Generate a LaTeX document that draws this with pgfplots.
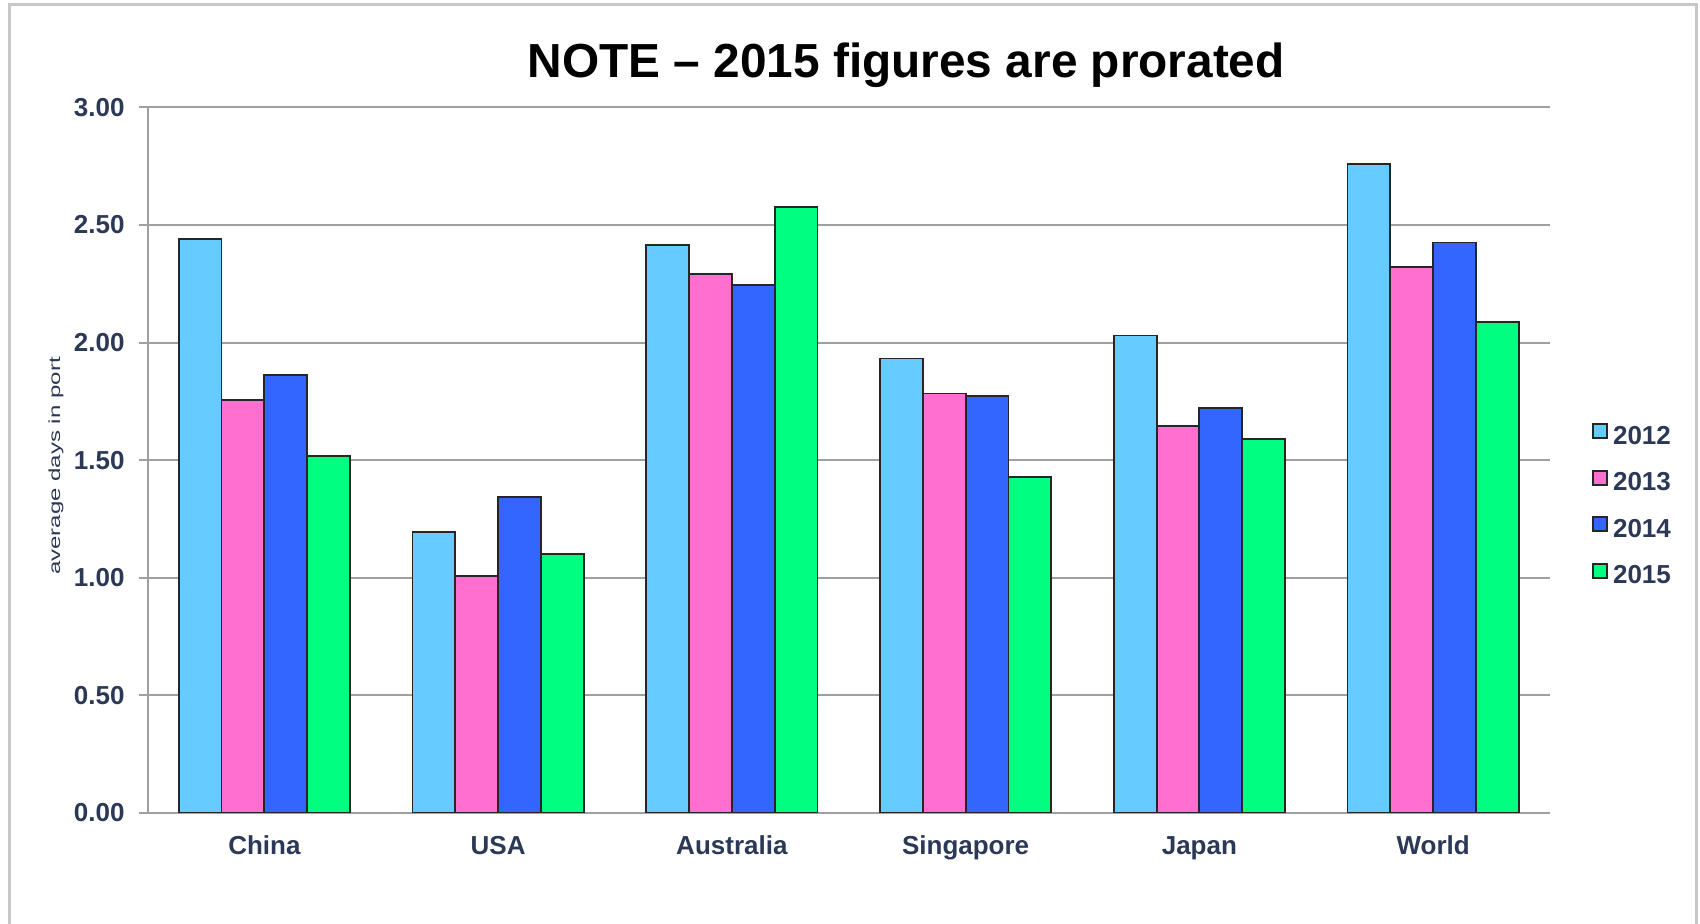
\documentclass[border=0pt]{standalone}
\usepackage{fontspec}
\setmainfont{Liberation Sans}
\usepackage{graphicx}
\usepackage{pgfplots}
\pgfplotsset{compat=1.18}

\definecolor{cA}{HTML}{66CCFF}
\definecolor{cB}{HTML}{FF6FCF}
\definecolor{cC}{HTML}{3366FF}
\definecolor{cD}{HTML}{00FF80}
\definecolor{navy}{HTML}{2B3856}
\definecolor{gridgray}{HTML}{A0A0A0}

\pgfplotsset{
  sq legend/.style={legend image code/.code={
      \draw[##1,draw=black!85,line width=0.8bp] (0bp,-1.7bp) rectangle (7bp,5.3bp);}},
}

\begin{document}
\begin{tikzpicture}
\path[use as bounding box] (0,0) rectangle (850bp,462bp);
\draw[line width=1.5bp, color=black!22] (4.7bp,0) -- (4.7bp,459.5bp) -- (848bp,459.5bp) -- (848bp,0);
\begin{axis}[
    at={(73.75bp,55.5bp)}, anchor=south west,
    scale only axis, width=701.25bp, height=352.85bp,
    ybar=0pt, bar width=0.183,
    xmin=-0.5, xmax=5.5, ymin=0, ymax=3,
    xtick={0,1,2,3,4,5},
    xticklabels={China,USA,Australia,Singapore,Japan,World},
    ytick={0,0.5,1,1.5,2,2.5,3},
    axis x line*=bottom, axis y line*=left,
    axis line style={gridgray, line width=1bp},
    ymajorgrids, grid style={gridgray, line width=1bp},
    major x tick style={draw=none},
    major y tick style={gridgray, line width=1bp},
    tick align=outside, major tick length=4.3bp,
    /pgf/number format/.cd, fixed, fixed zerofill, precision=2, assume math mode=true, /pgfplots/.cd,
    yticklabel style={font=\bfseries\fontsize{13bp}{13bp}\selectfont, text=navy, anchor=east, inner sep=0pt, xshift=-7bp},
    xticklabel style={font=\bfseries\fontsize{13bp}{13bp}\selectfont, text=navy, anchor=north, inner sep=0pt,
      text height=9.3bp, text depth=0pt, yshift=-6.8bp},
    ylabel={\scalebox{1.5}[1]{average days in port}},
    ylabel style={at={(axis description cs:-0.0652,0.4917)}, anchor=center,
      font=\fontsize{8bp}{8bp}\selectfont, text=navy, inner sep=0pt},
    title={NOTE – 2015 figures are prorated},
    title style={at={(axis description cs:0.541,1)}, anchor=center, yshift=17.4bp,
      font=\bfseries\fontsize{23.9bp}{23.9bp}\selectfont, text height=17.1bp, text depth=0pt, inner sep=0pt},
    legend style={at={(axis description cs:1.03,0.5526)}, anchor=north west, draw=none, fill=none,
      inner sep=0pt, row sep=12.8bp, column sep=2.5bp,
      font=\bfseries\fontsize{13bp}{13bp}\selectfont, text=navy,
      nodes={inner sep=0pt, text height=9.5bp, text depth=0pt}},
  ]
  \addplot[fill=cA, draw=black!85, line width=0.9bp, sq legend] coordinates {
    (0,2.44) (1,1.195) (2,2.415) (3,1.932) (4,2.03) (5,2.76)};
  \addplot[fill=cB, draw=black!85, line width=0.9bp, sq legend] coordinates {
    (0,1.757) (1,1.008) (2,2.291) (3,1.783) (4,1.645) (5,2.32)};
  \addplot[fill=cC, draw=black!85, line width=0.9bp, sq legend] coordinates {
    (0,1.862) (1,1.342) (2,2.246) (3,1.774) (4,1.722) (5,2.425)};
  \addplot[fill=cD, draw=black!85, line width=0.9bp, sq legend] coordinates {
    (0,1.518) (1,1.10) (2,2.576) (3,1.428) (4,1.59) (5,2.087)};
  \legend{2012,2013,2014,2015}
\end{axis}
\end{tikzpicture}
\end{document}
